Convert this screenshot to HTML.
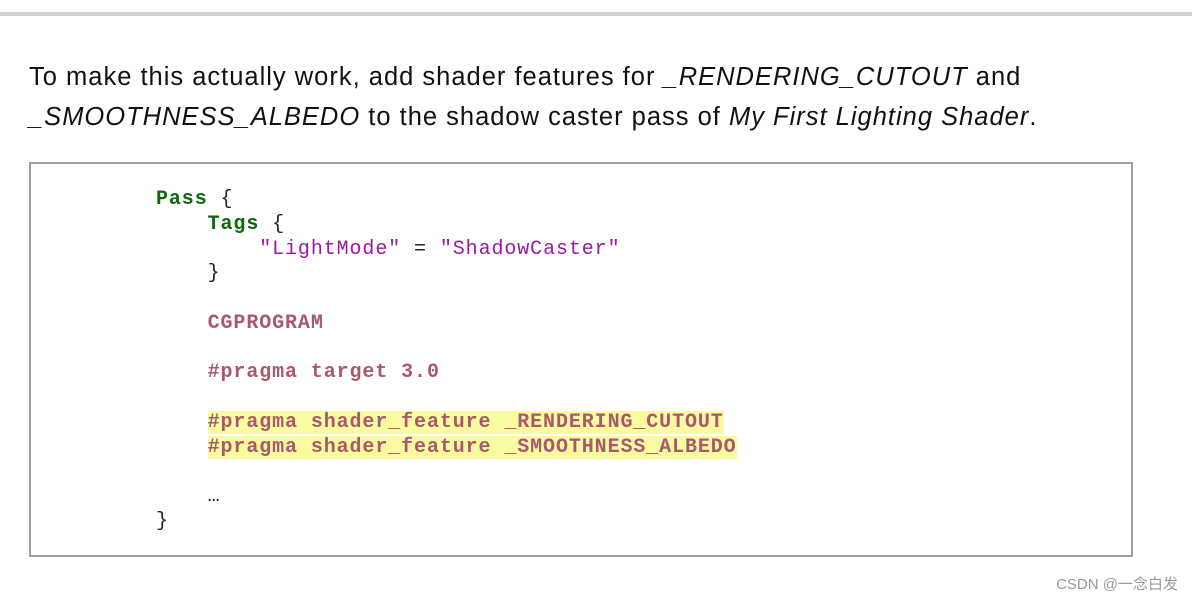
<!DOCTYPE html>
<html><head><meta charset="utf-8"><style>
body{margin:0;width:1192px;height:602px;background:#fff;position:relative;overflow:hidden;font-family:"Liberation Sans",sans-serif}
.bar{position:absolute;left:0;top:12px;width:1192px;height:4px;background:#d0d0d0}
.p{position:absolute;left:29px;top:57px;font-size:25.5px;line-height:40px;color:#111;white-space:nowrap;letter-spacing:1px}
.box{position:absolute;left:29px;top:162px;width:1100px;height:391px;border:2px solid #a0a0a0}
pre{position:absolute;left:156px;top:188px;margin:0;font-family:"Liberation Mono",monospace;font-size:20px;letter-spacing:0.9px;line-height:24.75px;color:#222}
.k{color:#0a6a0a;font-weight:bold}
.s{color:#9a1aa0}
.c{color:#a85a6a;font-weight:bold}
.h{background:#fafaa0}
.w{position:absolute;right:14px;bottom:8px;font-size:15px;color:#999;font-family:"Liberation Sans","Noto Sans CJK SC",sans-serif}
</style></head><body>
<div class="bar"></div>
<div class="p">To make this actually work, add shader features for <i>_RENDERING_CUTOUT</i> and<br><i>_SMOOTHNESS_ALBEDO</i> to the shadow caster pass of <i>My First Lighting Shader</i>.</div>
<div class="box"></div>
<pre><span class="k">Pass</span> {
    <span class="k">Tags</span> {
        <span class="s">"LightMode"</span> = <span class="s">"ShadowCaster"</span>
    }

    <span class="c">CGPROGRAM</span>

    <span class="c">#pragma target 3.0</span>

    <span class="c h">#pragma shader_feature _RENDERING_CUTOUT</span>
    <span class="c h">#pragma shader_feature _SMOOTHNESS_ALBEDO</span>

    …
}</pre>
<div class="w">CSDN @一念白发</div>
</body></html>
